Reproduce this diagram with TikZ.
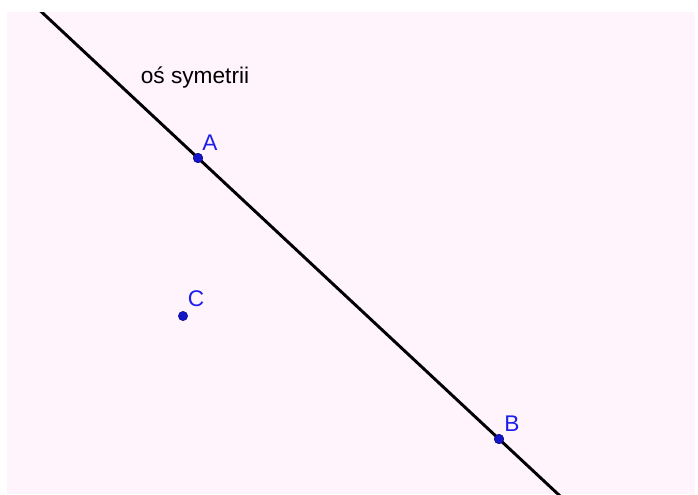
\documentclass[tikz,border=0pt]{standalone}
\usepackage{fontspec}
\setmainfont{Liberation Sans}
\usetikzlibrary{calc}
\definecolor{paper}{RGB}{255,243,252}
\definecolor{ptblue}{RGB}{20,20,200}
\definecolor{lblblue}{RGB}{30,30,235}
\begin{document}
\begin{tikzpicture}[x=0.75pt, y=-0.75pt]

        \useasboundingbox (0,0) rectangle (698,494);
        \fill[white] (0,0) rectangle (698,494);
        \fill[paper] (7,12) rectangle (695,494);

        % Define nodes (points)

        \node (A) at ( 198, 158 ) [circle, draw=ptblue!70!black, fill=ptblue, minimum size=7pt, inner sep=0pt] { };

        \node (B) at ( 499, 439 ) [circle, draw=ptblue!70!black, fill=ptblue, minimum size=7pt, inner sep=0pt] { };

        \node (C) at ( 183, 316 ) [circle, draw=ptblue!70!black, fill=ptblue, minimum size=7pt, inner sep=0pt] { };

        \node (lA) at ( 210, 143 ) [text=lblblue, font=\fontsize{17}{20}\selectfont] {A};

        \node (lB) at ( 512, 424 ) [text=lblblue, font=\fontsize{17}{20}\selectfont] {B};

        \node (lC) at ( 196, 299 ) [text=lblblue, font=\fontsize{17}{20}\selectfont] {C};

        \node (axis) at ( 195, 77 ) [font=\fontsize{17}{20}\selectfont] {oś symetrii};

        % Draw the axis through A and B

        \begin{scope}
        \clip (7,12) rectangle (695,494);
        \draw[line width=2.2pt] ($(A.center)!-1!(B.center)$) -- ($(A.center)!1.4!(B.center)$);
        \end{scope}

        % points on top of the line
        \node at (A) [circle, draw=ptblue!70!black, fill=ptblue, minimum size=7pt, inner sep=0pt] { };
        \node at (B) [circle, draw=ptblue!70!black, fill=ptblue, minimum size=7pt, inner sep=0pt] { };

    \end{tikzpicture}
\end{document}
